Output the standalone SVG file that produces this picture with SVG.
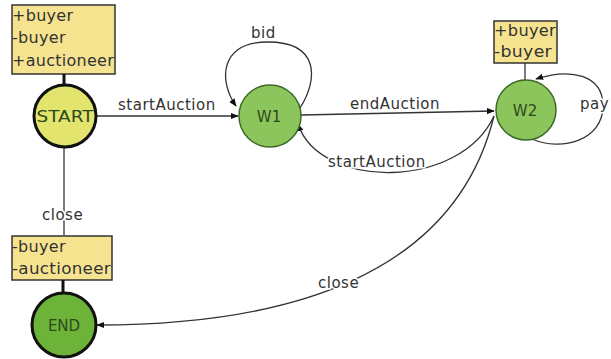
<svg xmlns="http://www.w3.org/2000/svg" width="611" height="359" viewBox="0 0 611 359">
  <style>
    .lbl { font-family: "DejaVu Sans", sans-serif; font-size: 15px; letter-spacing: 0.5px; fill: #333; paint-order: stroke; stroke: #fff; stroke-width: 3px; }
    .box { fill: #f6e390; stroke: #333; stroke-width: 1.5; }
    .boxtxt { font-family: "DejaVu Sans", sans-serif; font-size: 16px; letter-spacing: 0.3px; fill: #333; }
    .edge { fill: none; stroke: #333; stroke-width: 1.3; }
    .tie { stroke: #111; stroke-width: 3; }
    .state { stroke: #3b6a28; stroke-width: 1.5; fill: #8cc55c; }
    .name { font-family: "DejaVu Sans", sans-serif; font-size: 15px; fill: #2d4a1c; text-anchor: middle; }
  </style>
  <defs>
    <marker id="arrow" viewBox="0 0 10 10" refX="9" refY="5" markerWidth="8" markerHeight="8" markerUnits="userSpaceOnUse" orient="auto">
      <path d="M0,1 L10,5 L0,9 z" fill="#111"/>
    </marker>
  </defs>

  <!-- transitions -->
  <g id="connectors">
    <line class="edge" x1="64" y1="147" x2="64" y2="235"/>
    <line class="edge" x1="97" y1="116" x2="238" y2="116" marker-end="url(#arrow)"/>
    <path class="edge" d="M300,108 C318,80 320,42 268,42 C220,42 218,80 236,106" marker-end="url(#arrow)"/>
    <line class="edge" x1="301" y1="115" x2="494" y2="111" marker-end="url(#arrow)"/>
    <path class="edge" d="M494,116 C460,190 320,190 298,124" marker-end="url(#arrow)"/>
    <path class="edge" d="M494,116 C455,275 290,325 97,325" marker-end="url(#arrow)"/>
    <path class="edge" d="M532,139 C562,152 603,140 603,106 C603,74 570,68 536,79" marker-end="url(#arrow)"/>
    <line class="edge" x1="525" y1="63" x2="525" y2="80"/>

    <text class="lbl" x="118" y="110">startAuction</text>
    <text class="lbl" x="251" y="38">bid</text>
    <text class="lbl" x="350" y="109">endAuction</text>
    <text class="lbl" x="328" y="167">startAuction</text>
    <text class="lbl" x="318" y="288">close</text>
    <text class="lbl" x="42" y="220">close</text>
    <text class="lbl" x="580" y="109" font-size="14" letter-spacing="0">pay</text>
  </g>

  <g id="start">
    <rect class="box" x="12" y="5" width="103" height="69"/>
    <text class="boxtxt" x="12" y="21">+buyer</text>
    <text class="boxtxt" x="12" y="43">-buyer</text>
    <text class="boxtxt" x="12" y="66" textLength="102" lengthAdjust="spacingAndGlyphs">+auctioneer</text>
    <line class="tie" x1="64" y1="74" x2="64" y2="85"/>
    <circle cx="65" cy="116" r="31" fill="#e3e46e" stroke="#111" stroke-width="3"/>
    <text class="name" x="65" y="122" font-size="17" fill="#222" textLength="57" lengthAdjust="spacingAndGlyphs">START</text>
  </g>

  <g id="w1">
    <circle class="state" cx="270" cy="116" r="31"/>
    <text class="name" x="269" y="122">W1</text>
  </g>

  <g id="w2">
    <rect class="box" x="494" y="21" width="63" height="42"/>
    <text class="boxtxt" x="494" y="36" textLength="62" lengthAdjust="spacingAndGlyphs">+buyer</text>
    <text class="boxtxt" x="494" y="57" textLength="58" lengthAdjust="spacingAndGlyphs">-buyer</text>
    <circle class="state" cx="526" cy="110" r="30"/>
    <text class="name" x="525" y="116">W2</text>
  </g>

  <g id="end">
    <rect class="box" x="12" y="236" width="100" height="44"/>
    <text class="boxtxt" x="12" y="252">-buyer</text>
    <text class="boxtxt" x="12" y="274" textLength="99" lengthAdjust="spacingAndGlyphs">-auctioneer</text>
    <line class="tie" x1="63" y1="280" x2="63" y2="293"/>
    <circle cx="64" cy="325" r="32" fill="#6db33a" stroke="#111" stroke-width="3"/>
    <text class="name" x="64" y="331" font-size="16" fill="#2c5e18">END</text>
  </g>
</svg>
